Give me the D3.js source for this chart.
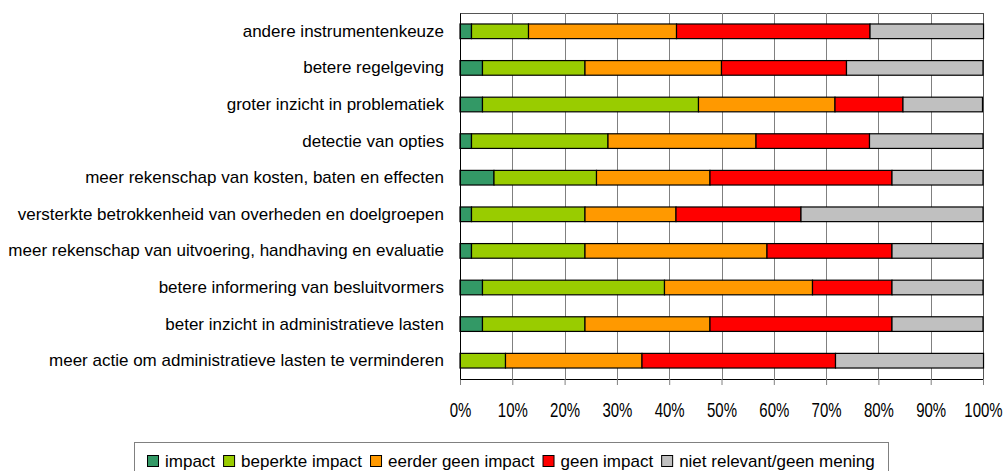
<!DOCTYPE html>
<html>
<head>
<meta charset="utf-8">
<script src="https://cdn.jsdelivr.net/npm/d3@7/dist/d3.min.js"></script>
<style>
  html, body { margin: 0; padding: 0; background: #fff; }
  text { font-family: "Liberation Sans", Arial, sans-serif; fill: #000; }
</style>
</head>
<body>
<svg id="chart" width="1003" height="471"></svg>
<script>
const categories = [
  "andere instrumentenkeuze",
  "betere regelgeving",
  "groter inzicht in problematiek",
  "detectie van opties",
  "meer rekenschap van kosten, baten en effecten",
  "versterkte betrokkenheid van overheden en doelgroepen",
  "meer rekenschap van uitvoering, handhaving en evaluatie",
  "betere informering van besluitvormers",
  "beter inzicht in administratieve lasten",
  "meer actie om administratieve lasten te verminderen"
];
const seriesNames = ["impact", "beperkte impact", "eerder geen impact", "geen impact", "niet relevant/geen mening"];
const impact = [2.2, 4.3, 4.3, 2.2, 6.5, 2.2, 2.2, 4.3, 4.3, 0];
const beperkt = [10.9, 19.6, 41.3, 26.1, 19.6, 21.7, 21.7, 34.8, 19.6, 8.7];
const eerderGeen = [28.3, 26.1, 26.1, 28.3, 21.7, 17.4, 34.8, 28.3, 23.9, 26.1];
const geenImpact = [37.0, 23.9, 13.0, 21.7, 34.8, 23.9, 23.9, 15.2, 34.8, 37.0];
const nietRelevant = [21.7, 26.1, 15.2, 21.7, 17.4, 34.8, 17.4, 17.4, 17.4, 28.3];
const xTicks = [0, 10, 20, 30, 40, 50, 60, 70, 80, 90, 100];
const colors = ["#339966", "#99cc00", "#ff9900", "#ff0000", "#c0c0c0"];

const svg = d3.select("#chart");
const plotLeft = 460, plotRight = 983, plotTop = 13, plotBottom = 379;

const x = d3.scaleLinear().domain([0, 100]).range([plotLeft, plotRight]);
const y = d3.scaleBand().domain(categories).range([plotTop, plotBottom])
  .paddingInner(0.6).paddingOuter(0.3);

// build rows for stacking
const rows = categories.map((c, i) => ({
  cat: c,
  "impact": impact[i],
  "beperkte impact": beperkt[i],
  "eerder geen impact": eerderGeen[i],
  "geen impact": geenImpact[i],
  "niet relevant/geen mening": nietRelevant[i]
}));
const stacked = d3.stack().keys(seriesNames)(rows);

// plot frame + grid
svg.append("rect")
  .attr("x", plotLeft).attr("y", plotTop)
  .attr("width", plotRight - plotLeft).attr("height", plotBottom - plotTop)
  .attr("fill", "#fff").attr("stroke", "#555").attr("shape-rendering", "crispEdges");

svg.append("g").selectAll("line")
  .data(xTicks.slice(1, -1))
  .join("line")
  .attr("x1", d => Math.round(x(d)) + 0.5).attr("x2", d => Math.round(x(d)) + 0.5)
  .attr("y1", plotTop).attr("y2", plotBottom)
  .attr("stroke", "#808080");

// bars
svg.append("g").selectAll("g")
  .data(stacked)
  .join("g")
  .attr("fill", (d, i) => colors[i])
  .selectAll("rect")
  .data(d => d.filter(s => s[1] - s[0] > 0))
  .join("rect")
  .attr("x", d => x(d[0]))
  .attr("y", d => y(d.data.cat))
  .attr("width", d => x(d[1]) - x(d[0]))
  .attr("height", y.bandwidth())
  .attr("stroke", "#000")
  .attr("stroke-width", 1.2);

// x axis
const xAxis = d3.axisBottom(x).tickValues(xTicks).tickFormat(d => d + "%").tickSizeOuter(0).tickSize(6);
const gx = svg.append("g").attr("transform", `translate(0,${plotBottom})`).call(xAxis);
gx.select(".domain").attr("stroke", "#000");
gx.selectAll(".tick line").attr("stroke", "#808080");
// tick labels in the reference are drawn taller than wide
gx.selectAll(".tick text")
  .attr("font-size", 15).attr("fill", "#000").attr("y", 0).attr("dy", 0)
  .attr("transform", "translate(0,38) scale(1,1.32)")
  .style("font-family", "'Liberation Sans', Arial, sans-serif");

// y axis (labels only)
const yAxis = d3.axisLeft(y).tickSize(0).tickPadding(16);
const gy = svg.append("g").attr("transform", `translate(${plotLeft},0)`).call(yAxis);
gy.select(".domain").attr("stroke", "#000");
gy.selectAll(".tick text").attr("font-size", 17).attr("fill", "#000")
  .style("font-family", "'Liberation Sans', Arial, sans-serif");

// legend
const legend = svg.append("g");
legend.append("rect")
  .attr("x", 134.5).attr("y", 442.5).attr("width", 754).attr("height", 40)
  .attr("fill", "#fff").attr("stroke", "#808080");
const items = legend.append("g");
let cx = 0;
seriesNames.forEach((name, i) => {
  const g = items.append("g").attr("transform", `translate(${cx},0)`);
  g.append("rect").attr("x", 0.5).attr("y", 455.5).attr("width", 11).attr("height", 11)
    .attr("fill", colors[i]).attr("stroke", "#000");
  const t = g.append("text").attr("x", 18).attr("y", 466.5).attr("font-size", 17).text(name);
  cx += 18 + t.node().getComputedTextLength() + 8;
});
const totalW = cx - 8;
items.attr("transform", `translate(${Math.round(511 - totalW / 2)},0)`);
</script>
</body>
</html>
